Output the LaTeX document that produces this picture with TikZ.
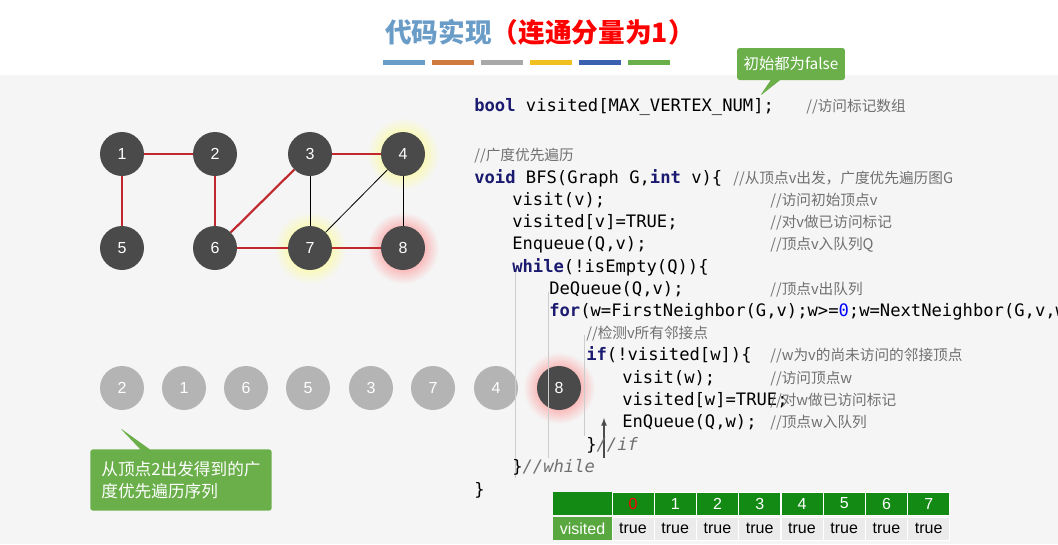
\documentclass[tikz,border=0pt]{standalone}
\usepackage{fontspec}
\setmainfont{Liberation Sans}
\newfontfamily\cjk{Noto Sans CJK SC}
\newfontfamily\mono{DejaVu Sans Mono}[Scale=1.03]
\usetikzlibrary{shapes.callouts}
\definecolor{dk}{HTML}{4A4A4A}
\definecolor{lg}{HTML}{B4B4B4}
\definecolor{rd}{HTML}{C0282D}
\definecolor{gr}{HTML}{6AAF4A}
\definecolor{tg}{HTML}{138A13}
\definecolor{cm}{HTML}{707070}
\definecolor{kw}{HTML}{1A1A70}
\definecolor{bg}{HTML}{F5F5F5}
\begin{document}
\begin{tikzpicture}[x=0.75pt,y=-0.75pt,
  vtx/.style={circle,fill=dk,minimum size=33pt,inner sep=0,text=white,font=\large},
  qv/.style={circle,fill=lg,minimum size=33pt,inner sep=0,text=white,font=\large},
  red/.style={draw=rd,line width=1.6pt},
  blk/.style={draw=black,line width=0.6pt},
  code/.style={anchor=base west,inner sep=0,font=\mono\fontsize{12.5}{14}\selectfont},
  cmt/.style={anchor=base west,inner sep=0,text=cm,font=\cjk\fontsize{11}{13}\selectfont\itshape},
  hd/.style={fill=tg,text=white,minimum height=17.5pt,inner sep=0,font=\fontsize{12}{14}\selectfont},
  tc/.style={fill=black!8,draw=white,minimum height=17.5pt,inner sep=0,font=\fontsize{12}{14}\selectfont}]
\useasboundingbox (0,0) rectangle (1058,544);
\fill[white] (0,0) rectangle (1058,544);
\fill[bg] (0,75) rectangle (1058,544);
% title
\node (title) at (540,32) {\cjk\fontsize{20}{22}\selectfont\bfseries\textcolor[HTML]{6A9CC8}{代码实现}\textcolor{red}{（连通分量为1）}};
\foreach \c/\i in {6A9CC8/0,D07A40/1,A8A8A8/2,F0C020/3,3A60B0/4,6AB04A/5}{
  \definecolor{tmp}{HTML}{\c}
  \fill[tmp] (383+\i*49,60) rectangle ++(42,5);}
% glows
\foreach \p/\c in {{403,154}/yellow,{310,248}/yellow,{403,248}/red,{559,388}/red}
  \shade[inner color=\c!60,outer color=bg] (\p) circle (36);
% graph
\node[vtx] (n1) at (122,154) {1};
\node[vtx] (n2) at (215,154) {2};
\node[vtx] (n3) at (310,154) {3};
\node[vtx] (n4) at (403,154) {4};
\node[vtx] (n5) at (122,248) {5};
\node[vtx] (n6) at (215,248) {6};
\node[vtx] (n7) at (310,248) {7};
\node[vtx] (n8) at (403,248) {8};
\draw[red] (n1)--(n2); \draw[red] (n1)--(n5); \draw[red] (n2)--(n6);
\draw[red] (n6)--(n3); \draw[red] (n6)--(n7); \draw[red] (n3)--(n4); \draw[red] (n7)--(n8);
\draw[blk] (n3)--(n7); \draw[blk] (n4)--(n7); \draw[blk] (n4)--(n8);
% queue
\foreach \t/\x [count=\k] in {2/122,1/184,6/246,5/308,3/371,7/433,4/496}
  \node[qv] (q\k) at (\x,388) {\t};
\node[vtx] (q8) at (559,388) {8};
% callouts
\node[rectangle callout,fill=gr,text=white,rounded corners=2pt,align=left,minimum width=136pt,minimum height=46pt,
  callout absolute pointer={(120,428)},font=\cjk\fontsize{12.5}{17}\selectfont] (c1) at (181,480) {从顶点2出发得到的广\\度优先遍历序列};
\node[rectangle callout,fill=gr,text=white,rounded corners=2pt,minimum height=24pt,inner sep=5pt,
  callout absolute pointer={(760,96)},font=\cjk\fontsize{11.5}{14}\selectfont] (c2) at (791,64) {初始都为false};
% code guides
\draw[black!20] (515,270)--(515,478);
\draw[black!20] (548,292)--(548,458);
\draw[black!20] (584,335)--(584,436);
\coordinate (ab) at (604,458); \coordinate (at) at (604,418);
\draw[-latex,black!70,line width=1pt] (ab) -- (at);
% code
\node[code] (l0) at (474,111) {\textcolor{kw}{\bfseries bool} visited[MAX\_VERTEX\_NUM];};
\node[cmt] (k0) at (806,111) {//访问标记数组};
\node[cmt] (k1) at (474,160) {//广度优先遍历};
\node[code] (l2) at (474,183) {\textcolor{kw}{\bfseries void} BFS(Graph G,\textcolor{kw}{\bfseries int} v)\{};
\node[cmt] (k2) at (733,183) {//从顶点v出发，广度优先遍历图G};
\node[code] (l3) at (512,205) {visit(v);};
\node[cmt] (k3) at (770,205) {//访问初始顶点v};
\node[code] (l4) at (512,227) {visited[v]=TRUE;};
\node[cmt] (k4) at (770,227) {//对v做已访问标记};
\node[code] (l5) at (512,249) {Enqueue(Q,v);};
\node[cmt] (k5) at (770,249) {//顶点v入队列Q};
\node[code] (l6) at (512,272) {\textcolor{kw}{\bfseries while}(!isEmpty(Q))\{};
\node[code] (l7) at (549,294) {DeQueue(Q,v);};
\node[cmt] (k7) at (770,294) {//顶点v出队列};
\node[code] (l8) at (549,316) {\textcolor{kw}{\bfseries for}(w=FirstNeighbor(G,v);w>=\textcolor{blue}{0};w=NextNeighbor(G,v,w))};
\node[cmt] (k8) at (586,338) {//检测v所有邻接点};
\node[code] (l9) at (586,360) {\textcolor{kw}{\bfseries if}(!visited[w])\{};
\node[cmt] (k9) at (770,360) {//w为v的尚未访问的邻接顶点};
\node[code] (l10) at (622,383) {visit(w);};
\node[cmt] (k10) at (770,383) {//访问顶点w};
\node[code] (l11) at (622,405) {visited[w]=TRUE;};
\node[cmt] (k11) at (770,405) {//对w做已访问标记};
\node[code] (l12) at (622,427) {EnQueue(Q,w);};
\node[cmt] (k12) at (770,427) {//顶点w入队列};
\node[code] (l13) at (586,450) {\}\textcolor{cm}{\itshape//if}};
\node[code] (l14) at (512,472) {\}\textcolor{cm}{\itshape//while}};
\node[code] (l15) at (474,495) {\}};
% table
\node[hd,minimum width=44.5pt] (h0) at (582.5,503.5) {};
\node[hd,minimum width=44.5pt,fill=gr!80!tg] (r0) at (582.5,528.5) {visited};
\foreach \t [count=\k from 0] in {\textcolor{red}{0},1,2,3,4,5,6,7}{
  \node[hd,minimum width=31.5pt,draw=white] (h\k x) at (633+\k*42.25,503.5) {\t};
  \node[tc,minimum width=31.5pt] (r\k x) at (633+\k*42.25,528.5) {true};}
\end{tikzpicture}
\end{document}
